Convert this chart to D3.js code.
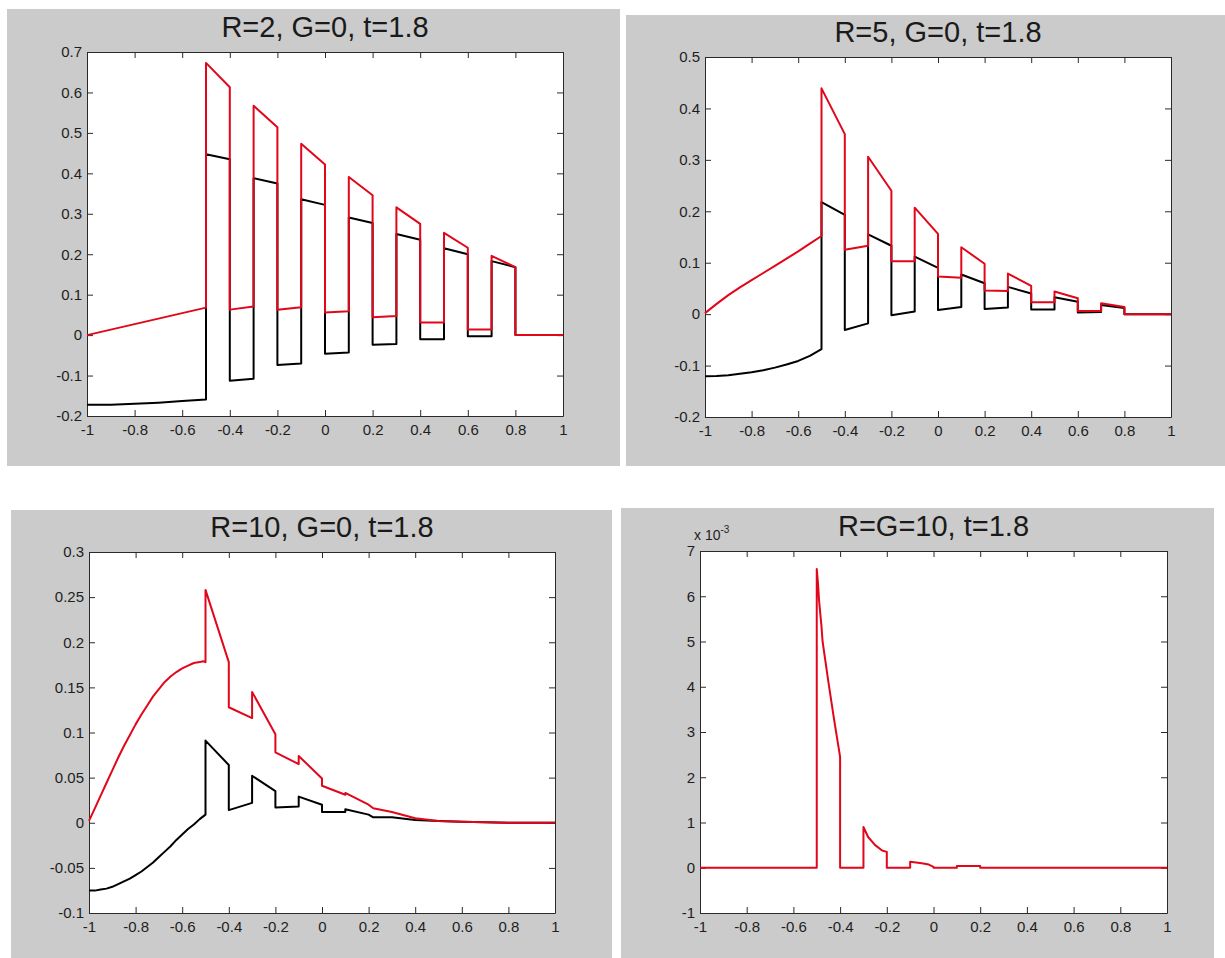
<!DOCTYPE html>
<html>
<head>
<meta charset="utf-8">
<script src="https://cdn.jsdelivr.net/npm/d3@7"></script>
<style>
  html, body { margin: 0; padding: 0; background: #ffffff; }
  svg { display: block; }
  .tick text { font-family: "Liberation Sans", Arial, sans-serif; font-size: 15px; fill: #1e1e1e; }
  .tick line, .domain { stroke: #2a2a2a; stroke-width: 1px; }
  .title { font-family: "Liberation Sans", Arial, sans-serif; font-size: 29px; fill: #1a1a1a; text-anchor: middle; }
  .expo { font-family: "Liberation Sans", Arial, sans-serif; font-size: 14px; fill: #1e1e1e; }
</style>
</head>
<body>
<script>
// Shared x ticks
const xTicks = [-1, -0.8, -0.6, -0.4, -0.2, 0, 0.2, 0.4, 0.6, 0.8, 1];

const titles = ["R=2, G=0, t=1.8", "R=5, G=0, t=1.8", "R=10, G=0, t=1.8", "R=G=10, t=1.8"];

// y ticks per panel
const yTicks1 = [-0.2, -0.1, 0, 0.1, 0.2, 0.3, 0.4, 0.5, 0.6, 0.7];
const yTicks2 = [-0.2, -0.1, 0, 0.1, 0.2, 0.3, 0.4, 0.5];
const yTicks3 = [-0.1, -0.05, 0, 0.05, 0.1, 0.15, 0.2, 0.25, 0.3];
const yTicks4 = [-0.001, 0, 0.001, 0.002, 0.003, 0.004, 0.005, 0.006, 0.007];

// R=2, G=0 : [x, value]
const black1 = [[-1,-0.172],[-0.9,-0.172],[-0.8,-0.170],[-0.7,-0.167],[-0.6,-0.163],[-0.5,-0.159],
  [-0.5,0.447],[-0.4,0.435],[-0.4,-0.113],[-0.3,-0.108],[-0.3,0.388],[-0.2,0.375],
  [-0.2,-0.074],[-0.1,-0.070],[-0.1,0.336],[0,0.322],[0,-0.046],[0.1,-0.043],
  [0.1,0.291],[0.2,0.277],[0.2,-0.024],[0.3,-0.022],[0.3,0.250],[0.4,0.236],
  [0.4,-0.010],[0.5,-0.010],[0.5,0.215],[0.6,0.200],[0.6,-0.003],[0.7,-0.003],
  [0.7,0.183],[0.8,0.168],[0.8,0],[1,0]];
const red1 = [[-1,0],[-0.5,0.068],[-0.5,0.673],[-0.4,0.613],[-0.4,0.063],[-0.3,0.071],
  [-0.3,0.567],[-0.2,0.514],[-0.2,0.063],[-0.1,0.069],[-0.1,0.473],[0,0.422],
  [0,0.056],[0.1,0.059],[0.1,0.391],[0.2,0.346],[0.2,0.044],[0.3,0.047],
  [0.3,0.316],[0.4,0.275],[0.4,0.031],[0.5,0.031],[0.5,0.253],[0.6,0.216],
  [0.6,0.014],[0.7,0.014],[0.7,0.196],[0.8,0.168],[0.8,0],[1,0]];

// R=5, G=0
const black2 = [[-1,-0.121],[-0.95,-0.1205],[-0.9,-0.119],[-0.85,-0.116],[-0.8,-0.113],[-0.75,-0.109],
  [-0.7,-0.104],[-0.65,-0.098],[-0.6,-0.091],[-0.55,-0.081],[-0.5,-0.068],
  [-0.5,0.218],[-0.4,0.193],[-0.4,-0.031],[-0.3,-0.018],[-0.3,0.155],[-0.2,0.133],
  [-0.2,-0.002],[-0.1,0.005],[-0.1,0.112],[0,0.090],[0,0.008],[0.1,0.014],
  [0.1,0.077],[0.2,0.060],[0.2,0.010],[0.3,0.013],[0.3,0.053],[0.4,0.040],
  [0.4,0.009],[0.5,0.009],[0.5,0.033],[0.6,0.024],[0.6,0.003],[0.7,0.004],
  [0.7,0.018],[0.8,0.012],[0.8,0],[1,0]];
const red2 = [[-1,0.002],[-0.95,0.020],[-0.9,0.037],[-0.85,0.052],[-0.8,0.066],[-0.75,0.080],
  [-0.7,0.094],[-0.65,0.108],[-0.6,0.122],[-0.55,0.137],[-0.5,0.152],
  [-0.5,0.439],[-0.4,0.350],[-0.4,0.125],[-0.3,0.133],[-0.3,0.306],[-0.2,0.240],
  [-0.2,0.103],[-0.1,0.103],[-0.1,0.207],[0,0.156],[0,0.073],[0.1,0.071],
  [0.1,0.130],[0.2,0.098],[0.2,0.046],[0.3,0.045],[0.3,0.079],[0.4,0.055],
  [0.4,0.023],[0.5,0.023],[0.5,0.044],[0.6,0.031],[0.6,0.006],[0.7,0.006],
  [0.7,0.021],[0.8,0.014],[0.8,0],[1,0]];

// R=10, G=0
const black3 = [[-1,-0.075],[-0.975,-0.0752],[-0.95,-0.074],[-0.925,-0.073],[-0.9,-0.071],
  [-0.875,-0.068],[-0.85,-0.065],[-0.825,-0.062],[-0.8,-0.058],[-0.775,-0.054],[-0.75,-0.049],
  [-0.725,-0.044],[-0.7,-0.038],[-0.675,-0.032],[-0.65,-0.026],[-0.625,-0.019],[-0.6,-0.013],
  [-0.575,-0.007],[-0.55,-0.002],[-0.525,0.004],[-0.5,0.009],
  [-0.5,0.091],[-0.4,0.064],[-0.4,0.014],[-0.3,0.022],[-0.3,0.052],[-0.2,0.035],
  [-0.2,0.017],[-0.1,0.018],[-0.1,0.029],[0,0.020],[0,0.012],[0.1,0.012],
  [0.1,0.015],[0.2,0.009],[0.22,0.006],[0.3,0.006],[0.4,0.003],[0.5,0.002],
  [0.6,0.001],[0.8,0],[1,0]];
const red3 = [[-1,0.002],[-0.975,0.016],[-0.95,0.030],[-0.925,0.044],[-0.9,0.058],[-0.875,0.072],
  [-0.85,0.085],[-0.825,0.097],[-0.8,0.109],[-0.775,0.120],[-0.75,0.130],[-0.725,0.140],
  [-0.7,0.148],[-0.675,0.156],[-0.65,0.162],[-0.625,0.167],[-0.6,0.171],[-0.575,0.174],
  [-0.55,0.177],[-0.525,0.178],[-0.51,0.179],[-0.5,0.178],
  [-0.5,0.258],[-0.4,0.178],[-0.4,0.128],[-0.3,0.116],[-0.3,0.145],[-0.2,0.098],
  [-0.2,0.078],[-0.1,0.065],[-0.1,0.074],[0,0.049],[0,0.041],[0.1,0.031],
  [0.1,0.033],[0.2,0.020],[0.22,0.016],[0.3,0.012],[0.4,0.005],[0.5,0.002],
  [0.6,0.001],[0.8,0],[1,0]];

// R=G=10
const red4 = [[-1,0],[-0.5,0],[-0.5,0.0066],[-0.495,0.0063],[-0.49,0.0059],[-0.48,0.00535],
  [-0.475,0.0050],[-0.45,0.0041],[-0.425,0.00325],[-0.4,0.00245],[-0.4,0],[-0.3,0],
  [-0.3,0.0009],[-0.28,0.00068],[-0.25,0.0005],[-0.22,0.00038],[-0.2,0.00035],[-0.2,0],
  [-0.1,0],[-0.1,0.00013],[-0.05,0.0001],[-0.02,0.00007],[0,0.00002],[0,0],
  [0.1,0],[0.1,0.00004],[0.2,0.00004],[0.2,0],[1,0]];

const fmt = d => String(+d.toFixed(4));
const fmtMilli = d => String(Math.round(d * 1000));

const panels = [
  { title: titles[0], black: black1, red: red1, yTicks: yTicks1, yFmt: fmt },
  { title: titles[1], black: black2, red: red2, yTicks: yTicks2, yFmt: fmt },
  { title: titles[2], black: black3, red: red3, yTicks: yTicks3, yFmt: fmt },
  { title: titles[3], black: null,   red: red4, yTicks: yTicks4, yFmt: fmtMilli, expo: true }
];

// figure frame and axes box for each panel: [x0, y0, x1, y1]
const layout = [
  { bg: [7, 9, 620, 466],    box: [87, 52, 563, 416] },
  { bg: [626, 15, 1225, 466], box: [705, 57, 1171, 417] },
  { bg: [11, 510, 612, 958],  box: [89, 552, 555, 913] },
  { bg: [621, 508, 1214, 958], box: [700, 551, 1167, 913] }
];

const RED = "#e2061b";
const BLACK = "#000000";

const svg = d3.select("body").append("svg").attr("width", 1225).attr("height", 958);
svg.append("rect").attr("width", 1225).attr("height", 958).attr("fill", "#ffffff");

panels.forEach((p, i) => {
  const L = layout[i];
  const [l, t, r, b] = L.box;
  const g = svg.append("g");

  g.append("rect")
    .attr("x", L.bg[0]).attr("y", L.bg[1])
    .attr("width", L.bg[2] - L.bg[0]).attr("height", L.bg[3] - L.bg[1])
    .attr("fill", "#cbcbcb");

  const x = d3.scaleLinear().domain([-1, 1]).range([l, r]);
  const y = d3.scaleLinear().domain([p.yTicks[0], p.yTicks[p.yTicks.length - 1]]).range([b, t]);

  g.append("rect").attr("x", l).attr("y", t).attr("width", r - l).attr("height", b - t).attr("fill", "#ffffff");

  g.append("g").attr("transform", `translate(0,${b})`)
    .call(d3.axisBottom(x).tickValues(xTicks).tickFormat(fmt).tickSizeInner(-6).tickSizeOuter(0).tickPadding(8));
  g.append("g").attr("transform", `translate(0,${t})`)
    .call(d3.axisTop(x).tickValues(xTicks).tickFormat("").tickSizeInner(-6).tickSizeOuter(0));
  g.append("g").attr("transform", `translate(${l},0)`)
    .call(d3.axisLeft(y).tickValues(p.yTicks).tickFormat(p.yFmt).tickSizeInner(-6).tickSizeOuter(0).tickPadding(5));
  g.append("g").attr("transform", `translate(${r},0)`)
    .call(d3.axisRight(y).tickValues(p.yTicks).tickFormat("").tickSizeInner(-6).tickSizeOuter(0));

  g.selectAll(".domain").attr("fill", "none");

  const line = d3.line().x(d => x(d[0])).y(d => y(d[1]));
  if (p.black) {
    g.append("path").datum(p.black).attr("d", line)
      .attr("fill", "none").attr("stroke", BLACK).attr("stroke-width", 2).attr("stroke-linejoin", "round");
  }
  g.append("path").datum(p.red).attr("d", line)
    .attr("fill", "none").attr("stroke", RED).attr("stroke-width", 2).attr("stroke-linejoin", "round");

  g.append("text").attr("class", "title")
    .attr("x", (l + r) / 2).attr("y", t - 15)
    .text(p.title);

  if (p.expo) {
    // scale factor shown above the y axis
    const e = g.append("text").attr("class", "expo").attr("x", l - 6).attr("y", t - 11);
    e.append("tspan").text("x 10");
    e.append("tspan").attr("dy", -7).attr("font-size", 10).text("-3");
  }
});
</script>
</body>
</html>
